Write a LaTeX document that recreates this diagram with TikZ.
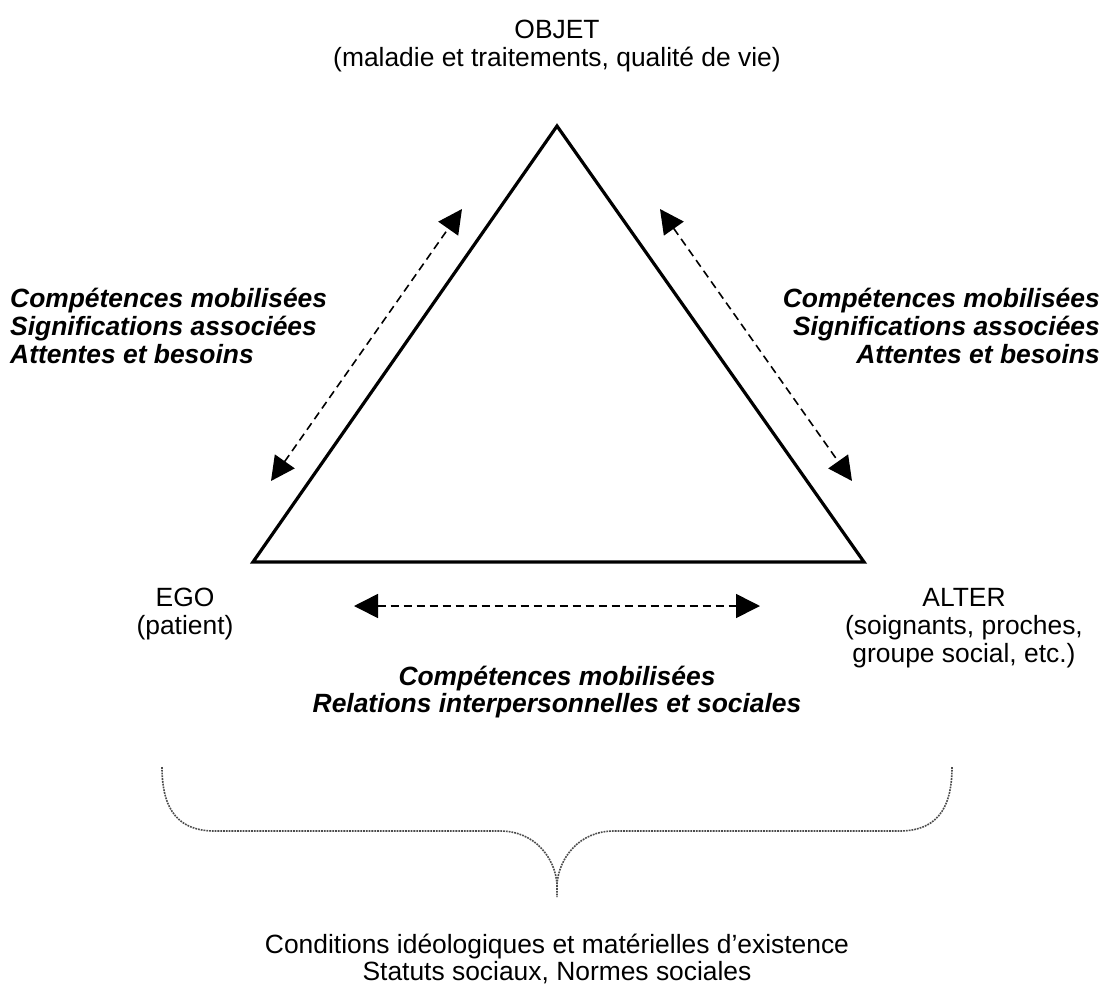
\documentclass[tikz,border=0pt]{standalone}
\usepackage{fontspec}
\setmainfont{Liberation Sans}
\usetikzlibrary{arrows.meta}

\tikzset{
  txt/.style={inner sep=0pt, align=center, font=\fontsize{26.5}{28}\selectfont},
  bitxt/.style={txt, font=\fontsize{26.5}{28}\selectfont\bfseries\itshape},
  link/.style={dashed, dash pattern=on 8bp off 5bp, line width=1.6bp,
    {Triangle[length=24bp,width=24bp]}-{Triangle[length=24bp,width=24bp]}},
  brace/.style={black!70, line width=1.6bp, dash pattern=on 1.8bp off 1bp}
}

\begin{document}
\begin{tikzpicture}[x=1bp, y=-1bp]
\useasboundingbox (0,0) rectangle (1107,1000);

% the triangle
\coordinate (objet) at (557,126);
\coordinate (ego) at (253,562);
\coordinate (alter) at (864,562);
\draw[line width=3.2bp, line join=miter] (objet) -- (ego) -- (alter) -- cycle;

% poles
\node[txt] (objetlbl) at (557,46) {OBJET\\(maladie et traitements, qualité de vie)};
\node[txt] (egolbl) at (185,614) {EGO\\(patient)};
\node[txt] (alterlbl) at (964,628) {ALTER\\(soignants, proches,\\groupe social, etc.)};

% dashed links
\coordinate (l1) at (462,209);
\coordinate (l2) at (271,481);
\coordinate (r1) at (660,209);
\coordinate (r2) at (852,481);
\coordinate (b1) at (354,606);
\coordinate (b2) at (760,606);
\draw[link] (l2) -- (l1);
\draw[link] (r1) -- (r2);
\draw[link] (b1) -- (b2);

\node[bitxt, anchor=west, align=left] (leftlbl) at (10,326)
  {Compétences mobilisées\\Significations associées\\Attentes et besoins};
\node[bitxt, anchor=east, align=right] (rightlbl) at (1100,326)
  {Compétences mobilisées\\Significations associées\\Attentes et besoins};
\node[bitxt] (bottomlbl) at (557,692)
  {Compétences mobilisées\\Relations interpersonnelles et sociales};

% brace
\coordinate (brl) at (162,767);
\coordinate (brr) at (952,767);
\coordinate (brtip) at (557,897);
\draw[brace] (brl) .. controls (162,812) and (180,831) .. (215,831) -- (500,831)
  .. controls (535,831) and (555,858) .. (557,884) -- (brtip);
\draw[brace] (brr) .. controls (952,812) and (934,831) .. (899,831) -- (614,831)
  .. controls (579,831) and (559,858) .. (557,884);

\node[txt] (condlbl) at (557,959)
  {Conditions idéologiques et matérielles d’existence\\Statuts sociaux, Normes sociales};
\end{tikzpicture}
\end{document}
